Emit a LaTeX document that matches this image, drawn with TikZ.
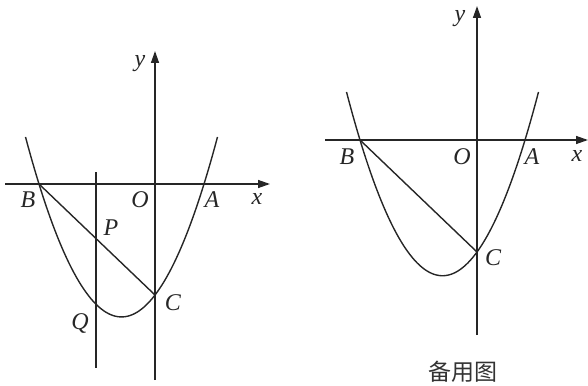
\documentclass[tikz,border=0pt]{standalone}
\usepackage{fontspec}
\setmainfont{Liberation Serif}
\newfontfamily\cjk{Noto Sans CJK SC}
\usetikzlibrary{arrows.meta}
\begin{document}
\begin{tikzpicture}[x=1pt,y=-1pt,
  ln/.style={line width=1.4pt,draw=black!85},
  axis/.style={ln,-{Triangle[length=12pt,width=8pt]}},
  lbl/.style={inner sep=0pt,font=\fontsize{24}{24}\selectfont\itshape,text=black!85}]
\useasboundingbox (0,0) rectangle (588,385);
% ---------- left figure ----------
\coordinate (Lxs) at (5,184);
\coordinate (Lxe) at (270,184);
\coordinate (Lys) at (155,380);
\coordinate (Lye) at (155,51);
\coordinate (LB) at (39,184);
\coordinate (LC) at (155,295);
\coordinate (LPt) at (96,172);
\coordinate (LPb) at (96,368);
\coordinate (LP) at (96,238.5);
\draw[axis] (Lxs) -- (Lxe);
\draw[axis] (Lys) -- (Lye);
\draw[ln] (LPt) -- (LPb);
\draw[ln] plot[domain=-129.5:62.5,samples=80,smooth] ({155+\x},{184-0.01953*(\x+116)*(\x-49)});
\draw[ln] (LB) -- (LC);
\node[lbl] (Ly) at (140,64) {y};
\node[lbl] (LBl) at (28,200) {B};
\node[lbl] (LOl) at (140,200) {O};
\node[lbl] (LAl) at (212,200) {A};
\node[lbl] (Lxl) at (257,199) {x};
\node[lbl] (LPl) at (111,228) {P};
\node[lbl] (LCl) at (173,303) {C};
\node[lbl] (LQl) at (80,323) {Q};
% ---------- right figure ----------
\coordinate (Rxs) at (325,140);
\coordinate (Rxe) at (588,140);
\coordinate (Rys) at (477,335);
\coordinate (Rye) at (477,6);
\coordinate (RB) at (360,140);
\coordinate (RC) at (477,252);
\draw[axis] (Rxs) -- (Rxe);
\draw[axis] (Rys) -- (Rye);
\draw[ln] plot[domain=-130.5:61.5,samples=80,smooth] ({477+\x},{140-0.01994*(\x+117)*(\x-48)});
\draw[ln] (RB) -- (RC);
\node[lbl] (Ry) at (460,19) {y};
\node[lbl] (RBl) at (347,157) {B};
\node[lbl] (ROl) at (462,157) {O};
\node[lbl] (RAl) at (532,157) {A};
\node[lbl] (Rxl) at (577,156) {x};
\node[lbl] (RCl) at (493,258) {C};
\node[inner sep=0pt,font=\cjk\fontsize{23}{23}\selectfont,text=black!80] (cap) at (463,372) {备用图};
\end{tikzpicture}
\end{document}
